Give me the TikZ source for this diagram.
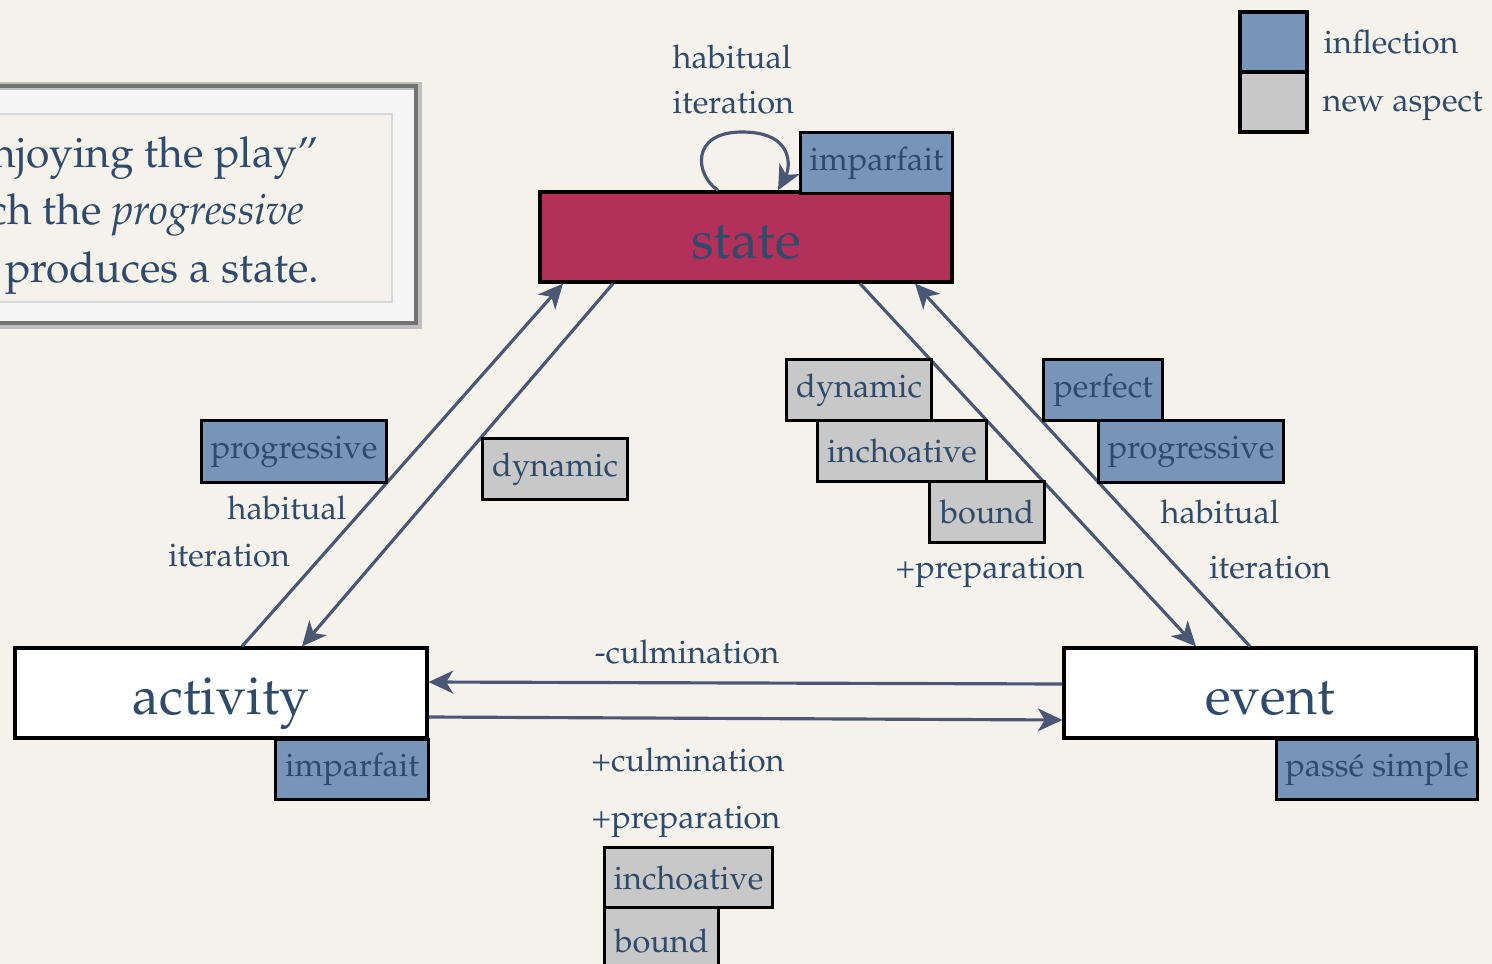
\documentclass[tikz,border=0pt]{standalone}
\usepackage[T1]{fontenc}
\usepackage{mathpazo}
\usetikzlibrary{arrows.meta}
\definecolor{ink}{HTML}{2F4A6B}
\definecolor{inflblue}{HTML}{7794B9}
\definecolor{aspgray}{HTML}{C8C8C8}
\definecolor{statered}{HTML}{B3305A}
\definecolor{arrowcol}{HTML}{4A5775}
\definecolor{paper}{HTML}{F5F2EC}

\begin{document}
\begin{tikzpicture}[y=-1cm,
  lbl/.style={text=ink,font=\fontsize{9.25}{12}\selectfont,inner sep=0pt},
  tag/.style={draw=black,line width=0.9pt,text=ink,font=\fontsize{9.25}{12}\selectfont,inner sep=0pt,anchor=north west},
  infl/.style={tag,fill=inflblue},
  aspect/.style={tag,fill=aspgray},
  kind/.style={draw=black,line width=0.9pt,text=ink,font=\fontsize{15.2}{18}\selectfont,minimum width=4.12cm,minimum height=0.9cm,inner sep=0pt,text height=12pt,text depth=0pt},
  conn/.style={draw=arrowcol,line width=0.9pt,-{Stealth[length=7pt,width=6.5pt,inset=2pt]}}]
\clip (0,0) rectangle (14.92,9.64);
\fill[paper] (0,0) rectangle (14.92,9.64);
% quote frame on the left
\draw[black!25,line width=2.5pt,fill=black!4] (-0.2,0.86) rectangle (4.18,3.25);
\draw[black!55,line width=1pt] (-0.2,0.86) rectangle (4.16,3.23);
\draw[black!15,fill=paper] (-0.2,1.14) rectangle (3.92,3.02);
\node[lbl,font=\fontsize{12.1}{14}\selectfont,anchor=base east] (q1) at (3.19,1.67) {njoying the play''};
\node[lbl,font=\fontsize{12.1}{14}\selectfont,anchor=base east] (q2) at (3.05,2.24) {ch the \textit{progressive}};
\node[lbl,font=\fontsize{12.1}{14}\selectfont,anchor=base east] (q3) at (3.20,2.82) {produces a state.};
% legend
\node[infl,line width=1.1pt,minimum width=0.67cm,minimum height=0.60cm] (leginfl) at (12.38,0.10) {};
\node[aspect,line width=1.1pt,minimum width=0.67cm,minimum height=0.60cm] (legasp) at (12.38,0.70) {};
\node[lbl,anchor=base west] (leginfltxt) at (13.23,0.53) {inflection};
\node[lbl,anchor=base west] (legasptxt) at (13.22,1.12) {new aspect};
% the three kinds
\node[kind,fill=statered] (st) at (7.46,2.37) {state};
\node[kind,fill=white] (act) at (2.21,6.93) {activity};
\node[kind,fill=white] (ev) at (12.70,6.93) {event};
\node[infl,minimum width=1.52cm,minimum height=0.61cm] (stimp) at (7.99,1.31) {imparfait};
\node[infl,minimum width=1.53cm,minimum height=0.60cm] (actimp) at (2.74,7.38) {imparfait};
\node[infl,minimum width=2.01cm,minimum height=0.60cm] (evps) at (12.75,7.38) {pass\'e simple};
% self loop on state
\draw[conn] ([xshift=-0.28cm]st.north) .. controls (6.95,1.75) and (6.90,1.32) .. (7.42,1.32)
  .. controls (7.95,1.32) and (7.90,1.68) .. ([xshift=0.32cm]st.north);
\node[lbl,anchor=base west] (hab0) at (6.72,0.69) {habitual};
\node[lbl,anchor=base west] (it0) at (6.72,1.13) {iteration};
% connectors
\draw[conn] ([xshift=0.21cm]act.north) -- ([xshift=-1.83cm]st.south);
\draw[conn] ([xshift=-1.33cm]st.south) -- ([xshift=0.81cm]act.north);
\draw[conn] ([xshift=1.14cm]st.south) -- ([xshift=-0.74cm]ev.north);
\draw[conn] ([xshift=-0.20cm]ev.north) -- ([xshift=1.69cm]st.south);
\draw[conn] ([yshift=0.09cm]ev.west) -- ([yshift=0.11cm]act.east);
\draw[conn] ([yshift=-0.24cm]act.east) -- ([yshift=-0.27cm]ev.west);
% left side
\node[infl,minimum width=1.85cm,minimum height=0.62cm] (progl) at (2.00,4.19) {progressive};
\node[lbl,anchor=base] (habl) at (2.87,5.19) {habitual};
\node[lbl,anchor=base] (itl) at (2.29,5.66) {iteration};
\node[aspect,minimum width=1.45cm,minimum height=0.61cm] (dynl) at (4.81,4.37) {dynamic};
% right side
\node[aspect,minimum width=1.45cm,minimum height=0.61cm] (dynr) at (7.85,3.58) {dynamic};
\node[aspect,minimum width=1.69cm,minimum height=0.61cm] (inchr) at (8.16,4.19) {inchoative};
\node[aspect,minimum width=1.15cm,minimum height=0.61cm] (boundr) at (9.28,4.80) {bound};
\node[lbl,anchor=base] (prepr) at (9.90,5.78) {+preparation};
\node[infl,minimum width=1.19cm,minimum height=0.61cm] (perf) at (10.42,3.58) {perfect};
\node[infl,minimum width=1.85cm,minimum height=0.62cm] (progr) at (10.97,4.19) {progressive};
\node[lbl,anchor=base] (habr) at (12.20,5.23) {habitual};
\node[lbl,anchor=base] (itr) at (12.70,5.78) {iteration};
% bottom
\node[lbl,anchor=base] (mcul) at (6.87,6.63) {-culmination};
\node[lbl,anchor=base] (pcul) at (6.88,7.71) {+culmination};
\node[lbl,anchor=base] (prepb) at (6.86,8.28) {+preparation};
\node[aspect,minimum width=1.68cm,minimum height=0.60cm] (inchb) at (6.03,8.46) {inchoative};
\node[aspect,minimum width=1.14cm,minimum height=0.66cm] (boundb) at (6.03,9.06) {bound};
\end{tikzpicture}
\end{document}
